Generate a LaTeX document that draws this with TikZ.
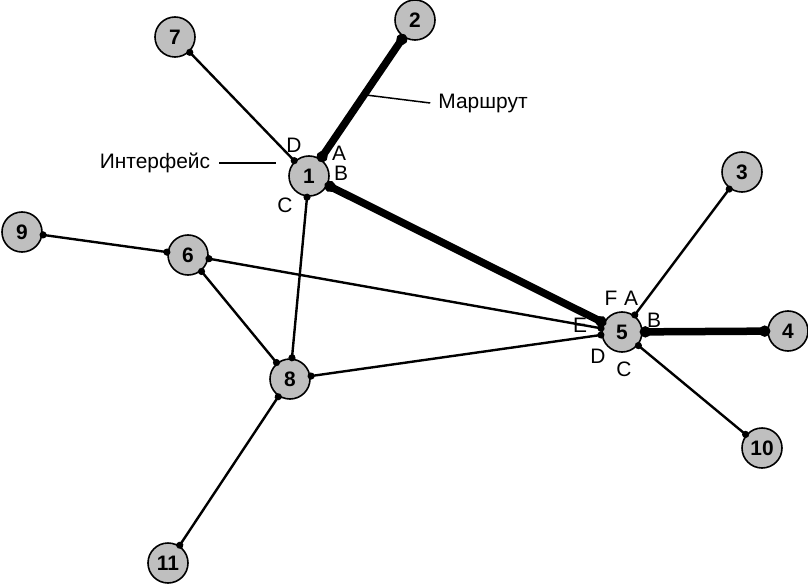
\documentclass[tikz,border=0pt]{standalone}
\usepackage{fontspec}
\setmainfont{Liberation Sans}
\usetikzlibrary{arrows.meta}
\tikzset{
  router/.style={circle, draw, line width=1.6bp, fill=black!25, minimum size=40bp, inner sep=0pt, font=\fontsize{21}{21}\selectfont\bfseries},
  link/.style={line width=2.4bp, {Circle[length=7bp]}-{Circle[length=7bp]}, shorten <=-3bp, shorten >=-3bp},
  route/.style={line width=7.5bp, {Circle[length=11bp]}-{Circle[length=11bp]}, shorten <=-3bp, shorten >=-3bp},
  port/.style={font=\fontsize{21}{21}\selectfont, inner sep=0pt}
}
\begin{document}
\begin{tikzpicture}[x=1bp, y=-1bp]
    \useasboundingbox (0,0) rectangle (808,586);
    % routers
    \node[router] (r1) at (309,176) {1};
    \node[router] (r2) at (415,20) {2};
    \node[router] (r3) at (742,172) {3};
    \node[router] (r4) at (788,331) {4};
    \node[router] (r5) at (622,332) {5};
    \node[router] (r6) at (188,255) {6};
    \node[router] (r7) at (175,37) {7};
    \node[router] (r8) at (290,379) {8};
    \node[router] (r9) at (22,232) {9};
    \node[router] (r10) at (762,448) {10};
    \node[router] (r11) at (168,563) {11};
    % links
    \foreach \a/\b in {r7/r1, r1/r8, r3/r5, r5/r10, r6/r5, r8/r5, r9/r6, r6/r8, r8/r11}
        \draw[link] (\a) -- (\b);
    \draw[route] (r2) -- (r1);
    \draw[route] (r1) -- (r5);
    \draw[route] (r5) -- (r4);
    % interface names
    \node[port] (p1d) at (294,145) {D};
    \node[port] (p1a) at (339,153) {A};
    \node[port] (p1b) at (341,173) {B};
    \node[port] (p1c) at (285,205) {C};
    \node[port] (p5f) at (611,298) {F};
    \node[port] (p5a) at (631,298) {A};
    \node[port] (p5b) at (654,320) {B};
    \node[port] (p5e) at (580,325) {E};
    \node[port] (p5d) at (598,356) {D};
    \node[port] (p5c) at (624,369) {C};
    % callouts
    \node[port] (iface) at (155,163) {Интерфейс};
    \coordinate (ifaceend) at (276,163);
    \draw[line width=1.5bp] (iface.east) ++(9,0) -- (ifaceend);
    \node[port] (path) at (483,103) {Маршрут};
    \coordinate (pathend) at (366,95);
    \draw[line width=1.5bp] (pathend) -- ([xshift=-8bp]path.west);
\end{tikzpicture}
\end{document}
